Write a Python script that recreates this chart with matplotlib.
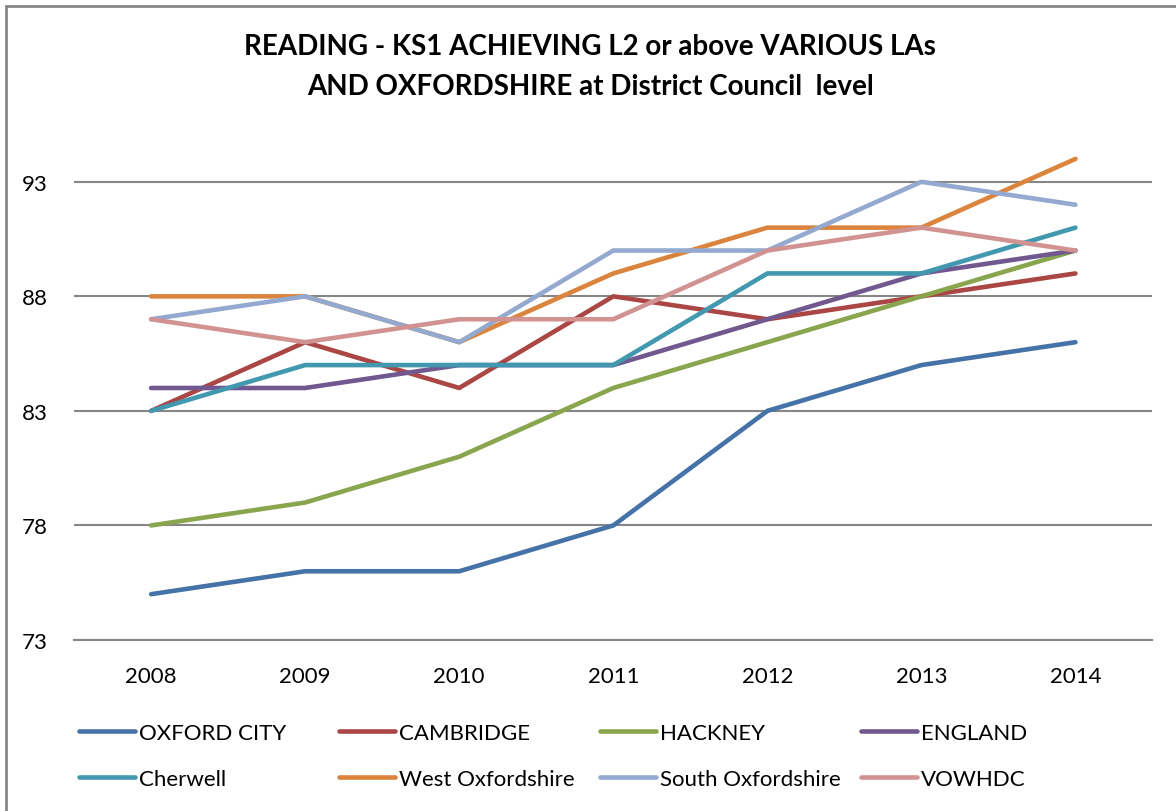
import matplotlib.pyplot as plt
from matplotlib.patches import Rectangle

# data
years = ["2008", "2009", "2010", "2011", "2012", "2013", "2014"]
oxford_city = [75, 76, 76, 78, 83, 85, 86]
cambridge = [83, 86, 84, 88, 87, 88, 89]
hackney = [78, 79, 81, 84, 86, 88, 90]
england = [84, 84, 85, 85, 87, 89, 90]
cherwell = [83, 85, 85, 85, 89, 89, 91]
west_oxon = [88, 88, 86, 89, 91, 91, 94]
south_oxon = [87, 88, 86, 90, 90, 93, 92]
vowhdc = [87, 86, 87, 87, 90, 91, 90]

names = ["OXFORD CITY", "CAMBRIDGE", "HACKNEY", "ENGLAND",
         "Cherwell", "West Oxfordshire", "South Oxfordshire", "VOWHDC"]
series = [oxford_city, cambridge, hackney, england,
          cherwell, west_oxon, south_oxon, vowhdc]
colors = ["#4572A7", "#AA4643", "#89A54E", "#71588F",
          "#4198AF", "#DB843D", "#93A9CF", "#D19392"]
yticks = [73, 78, 83, 88, 93]

plt.rcParams['font.family'] = ['Lato', 'DejaVu Sans']

fig = plt.figure(figsize=(11.76, 8.12), dpi=100)
ax = fig.add_axes([0.063, 0.2106, 0.917, 0.6207])

x = range(len(years))
handles = []
for vals, name, c in zip(series, names, colors):
    h, = ax.plot(x, vals, color=c, lw=3.3, solid_capstyle='round', label=name)
    handles.append(h)

ax.set_xlim(-0.5, len(years) - 0.5)
ax.set_ylim(73, 95)
ax.set_yticks(yticks)
ax.set_xticks(list(x))
ax.set_xticklabels(years)
ax.yaxis.grid(True, color="#868686", lw=1.5)
ax.set_axisbelow(True)
for s in ax.spines.values():
    s.set_visible(False)
ax.spines['bottom'].set_visible(True)
ax.spines['bottom'].set_color("#868686")
ax.spines['bottom'].set_linewidth(1.5)
ax.tick_params(length=0, labelsize=16)
ax.tick_params(axis='x', pad=19)
ax.tick_params(axis='y', pad=19)

fig.text(0.502, 0.942, "READING - KS1 ACHIEVING L2 or above VARIOUS LAs",
         ha='center', va='center', fontsize=20, fontweight='bold')
fig.text(0.502, 0.893, "AND OXFORDSHIRE at District Council  level",
         ha='center', va='center', fontsize=20, fontweight='bold')

# legend: four columns placed like the original, row 1 on top
col_x = [79, 339, 600, 861]
for j, cx in enumerate(col_x):
    leg = fig.legend([handles[j], handles[j + 4]], [names[j], names[j + 4]],
                     loc='upper left', bbox_to_anchor=(cx / 1176, 1 - 724 / 812),
                     frameon=False, fontsize=16, handlelength=2.5,
                     handletextpad=0.2, labelspacing=1.18,
                     borderaxespad=0, borderpad=0)
    for line in leg.get_lines():
        line.set_linewidth(3.3)

# outer chart border
fig.patches.append(Rectangle((6 / 1176, -0.05), 1.2, 1 - 7 / 812 + 0.05,
                             transform=fig.transFigure, fill=False,
                             edgecolor="#868686", lw=2))

fig.savefig("out.png", dpi=100)
